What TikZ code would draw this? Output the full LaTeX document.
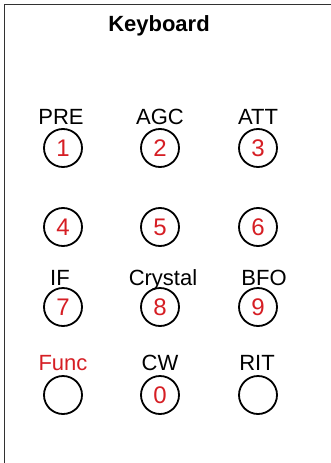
\documentclass[tikz,border=0pt]{standalone}
\usepackage{fontspec}
\setmainfont{Liberation Sans}
\definecolor{keyred}{RGB}{214,30,36}
\definecolor{framegray}{RGB}{50,50,50}
\begin{document}
\begin{tikzpicture}[x=1pt,y=-1pt,
  key/.style={circle,draw=black,line width=1.8pt,minimum size=38pt,inner sep=0pt,text=keyred,font=\fontsize{24}{26}\selectfont},
  lbl/.style={anchor=base,inner sep=0pt,font=\fontsize{22}{24}\selectfont},
  titlelbl/.style={anchor=base,inner sep=0pt,font=\fontsize{22}{24}\selectfont\bfseries},
]
\useasboundingbox (0,0) rectangle (331,463);
\fill[white] (0,0) rectangle (331,463);
\coordinate (tr) at (331,4.5);
\coordinate (tl) at (4.5,4.5);
\coordinate (bl) at (4.5,463);
\draw[framegray,line width=1.7pt] (tr) -- (tl) -- (bl);

\node[titlelbl] (title) at (159,31) {Keyboard};

% labels row 1
\node[lbl] (lpre) at (61,124) {PRE};
\node[lbl] (lagc) at (160,124) {AGC};
\node[lbl] (latt) at (258,124) {ATT};
% keys row 1
\node[key] (k1) at (63,148) {1};
\node[key] (k2) at (160,148) {2};
\node[key] (k3) at (258,148) {3};
% keys row 2
\node[key] (k4) at (63,227) {4};
\node[key] (k5) at (160,227) {5};
\node[key] (k6) at (258,227) {6};
% labels row 3
\node[lbl] (lif) at (60,285) {IF};
\node[lbl] (lcry) at (163,285) {Crystal};
\node[lbl] (lbfo) at (264,285) {BFO};
% keys row 3
\node[key] (k7) at (63,307) {7};
\node[key] (k8) at (160,307) {8};
\node[key] (k9) at (258,307) {9};
% labels row 4
\node[lbl,text=keyred] (lfunc) at (63,370) {Func};
\node[lbl] (lcw) at (160,370) {CW};
\node[lbl] (lrit) at (257,370) {RIT};
% keys row 4
\node[key] (kf) at (63,395) {};
\node[key] (k0) at (160,395) {0};
\node[key] (kr) at (258,395) {};
\end{tikzpicture}
\end{document}
